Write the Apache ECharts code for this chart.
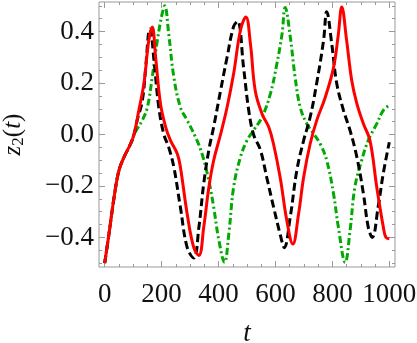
<!DOCTYPE html>
<html lang="en">
<head>
    <meta charset="UTF-8">
    <title>z2(t)</title>
    <script src="https://cdn.jsdelivr.net/npm/echarts@6.0.0/dist/echarts.min.js"></script>
    <style>
        html, body { margin: 0; padding: 0; background: #fff; }
        #chart-container { width: 417px; height: 343px; }
    </style>
</head>
<body>
<div id="chart-container"></div>

<script>
    // curve samples: [t, z2]
    var blackDashed = [
        [0, -0.5], [15, -0.387], [33, -0.244], [50, -0.14], [68, -0.088], [91, -0.036], [103, 0],
        [114, 0.055], [132, 0.13], [144, 0.26], [155, 0.405], [159, 0.41],
        [173, 0.29], [190, 0.106], [208, 0], [225, -0.05], [243, -0.127], [266, -0.283], [290, -0.44], [313, -0.48],
        [331, -0.36], [348, -0.19], [366, -0.06], [383, 0.03], [407, 0.17], [430, 0.3], [453, 0.42], [467, 0.44],
        [488, 0.26], [506, 0.094], [523, 0], [547, -0.06], [570, -0.17], [593, -0.28], [617, -0.39], [631, -0.44],
        [652, -0.32], [675, -0.14], [699, -0.023], [722, 0.068], [745, 0.2], [769, 0.366], [780, 0.477],
        [798, 0.35], [815, 0.2], [839, 0.094], [862, 0.016], [886, -0.088], [909, -0.23], [926, -0.36], [940, -0.4],
        [961, -0.28], [979, -0.15], [1000, -0.03]
    ];
    var redSolid = [
        [0, -0.5], [15, -0.387], [33, -0.244], [50, -0.14], [68, -0.088], [91, -0.036], [103, 0],
        [120, 0.094], [138, 0.2], [155, 0.366], [167, 0.418],
        [179, 0.3], [196, 0.12], [214, 0.03], [231, -0.023], [255, -0.075], [266, -0.127], [290, -0.31], [313, -0.44], [331, -0.47],
        [348, -0.36], [366, -0.205], [383, -0.1], [407, 0], [430, 0.106], [453, 0.236], [477, 0.405], [496, 0.457],
        [512, 0.353], [529, 0.17], [553, 0.08], [576, 0.03], [593, -0.036], [617, -0.17], [640, -0.335], [661, -0.426],
        [681, -0.31], [699, -0.166], [722, -0.036], [745, 0.055], [775, 0.145], [804, 0.26], [821, 0.39], [833, 0.496],
        [850, 0.366], [868, 0.21], [886, 0.12], [909, 0.042], [932, -0.023], [956, -0.205], [979, -0.36], [988, -0.4], [1000, -0.405]
    ];
    var greenDashDot = [
        [0, -0.5], [15, -0.387], [33, -0.244], [50, -0.14], [68, -0.088], [91, -0.036], [103, 0],
        [114, 0.022], [132, 0.055], [150, 0.106], [167, 0.223], [185, 0.366], [202, 0.47], [211, 0.5],
        [225, 0.39], [243, 0.223], [266, 0.106], [290, 0.055], [319, -0.01], [342, -0.075], [366, -0.18], [383, -0.283], [401, -0.41], [421, -0.497],
        [436, -0.387], [453, -0.205], [477, -0.088], [500, -0.023], [523, 0.016], [553, 0.068], [582, 0.158], [605, 0.275], [623, 0.39], [634, 0.494],
        [652, 0.38], [669, 0.223], [687, 0.106], [710, 0.042], [734, 0.003], [757, -0.036], [780, -0.1], [804, -0.23], [821, -0.36], [845, -0.497],
        [862, -0.374], [879, -0.205], [903, -0.1], [926, -0.023], [956, 0.042], [979, 0.094], [1000, 0.113]
    ];

    var xMajor = [0, 200, 400, 600, 800, 1000];
    var xMinor = [0, 50, 100, 150, 200, 250, 300, 350, 400, 450, 500, 550, 600, 650, 700, 750, 800, 850, 900, 950, 1000];
    var yMajor = [-0.4, -0.2, 0, 0.2, 0.4];
    var yMinor = [-0.5, -0.45, -0.4, -0.35, -0.3, -0.25, -0.2, -0.15, -0.1, -0.05, 0, 0.05, 0.1, 0.15, 0.2, 0.25, 0.3, 0.35, 0.4, 0.45, 0.5];

    var serif = "'Liberation Serif', 'Times New Roman', serif";
    var frameColor = '#999';

    function xAx(pos, ticks, len, labels) {
        return {
            type: 'value', position: pos, min: -20, max: 1020,
            axisLine: { show: false, onZero: false }, splitLine: { show: false },
            axisTick: { show: true, inside: true, length: len, customValues: ticks, lineStyle: { color: frameColor } },
            axisLabel: labels ? {
                show: true, customValues: xMajor, margin: 14,
                fontFamily: serif, fontSize: 27, color: '#111',
                formatter: function (v) { return String(v); }
            } : { show: false },
            name: labels ? 't' : '',
            nameLocation: 'middle', nameGap: 53,
            nameTextStyle: { fontFamily: serif, fontStyle: 'italic', fontSize: 27, color: '#111' }
        };
    }
    function yAx(pos, ticks, len, labels) {
        return {
            type: 'value', position: pos, min: -0.515, max: 0.515,
            axisLine: { show: false, onZero: false }, splitLine: { show: false },
            axisTick: { show: true, inside: true, length: len, customValues: ticks, lineStyle: { color: frameColor } },
            axisLabel: labels ? {
                show: true, customValues: yMajor, margin: 5,
                fontFamily: serif, fontSize: 27, color: '#111',
                formatter: function (v) { return (v < 0 ? '\u2212' : '') + Math.abs(v).toFixed(1); }
            } : { show: false },
            name: labels ? '{i|z}{s|2}{n|(}{i|t}{n|)}' : '',
            nameLocation: 'middle', nameGap: 72, nameRotate: 90,
            nameTextStyle: {
                fontFamily: serif, fontSize: 25, color: '#111',
                rich: {
                    i: { fontFamily: serif, fontStyle: 'italic', fontSize: 25, color: '#111' },
                    n: { fontFamily: serif, fontSize: 25, color: '#111' },
                    s: { fontFamily: serif, fontSize: 17, color: '#111', padding: [10, 0, 0, 0] }
                }
            }
        };
    }

    var option = {
        animation: false,
        backgroundColor: '#fff',
        textStyle: { fontFamily: serif },
        grid: {
            left: 99, right: 22, top: 2, bottom: 76,
            containLabel: false, outerBoundsMode: 'none',
            show: true, borderColor: frameColor, borderWidth: 1
        },
        xAxis: [
            xAx('bottom', xMajor, 6, true), xAx('bottom', xMinor, 3, false),
            xAx('top', xMajor, 6, false), xAx('top', xMinor, 3, false)
        ],
        yAxis: [
            yAx('left', yMajor, 6, true), yAx('left', yMinor, 3, false),
            yAx('right', yMajor, 6, false), yAx('right', yMinor, 3, false)
        ],
        series: [
            {
                type: 'line', data: greenDashDot, smooth: 0.4, showSymbol: false,
                lineStyle: { color: '#00aa00', width: 3, type: [7, 3, 2, 3] }
            },
            {
                type: 'line', data: blackDashed, smooth: 0.4, showSymbol: false,
                lineStyle: { color: '#000', width: 3, type: [8, 4] }
            },
            {
                type: 'line', data: redSolid, smooth: 0.4, showSymbol: false,
                lineStyle: { color: '#ff0000', width: 3 }
            }
        ]
    };

    var chart = echarts.init(document.getElementById('chart-container'));
    chart.setOption(option);
</script>
</body>
</html>
